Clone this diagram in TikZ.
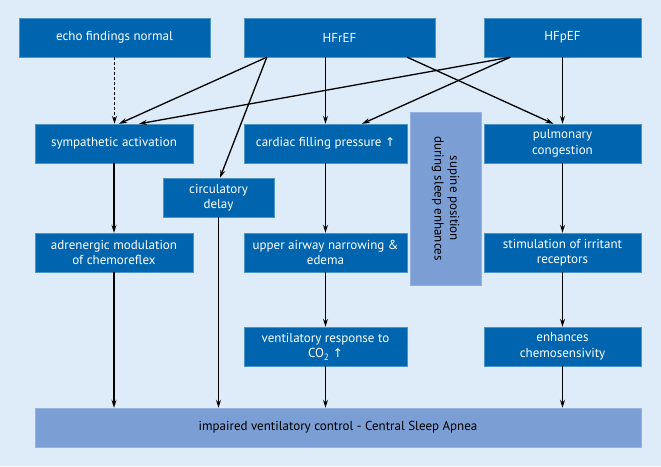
\documentclass[tikz,border=0pt]{standalone}
\usepackage{fontspec}
\setmainfont{PT Sans}
\newfontfamily\symfont{DejaVu Sans}
\usetikzlibrary{arrows.meta}
\definecolor{bgblue}{RGB}{222,235,248}
\definecolor{darkbox}{RGB}{0,101,174}
\definecolor{lightbox}{RGB}{123,158,212}
\newcommand{\uparr}{{\symfont\fontsize{12}{14}\selectfont ↑}}
\begin{document}
\begin{tikzpicture}[x=1pt,y=-1pt,
  dbox/.style={draw=darkbox!70!white, line width=0.4pt, fill=darkbox, text=white, align=center,
    minimum height=39pt, inner sep=2pt, font=\fontsize{13}{15.5}\selectfont},
  lbox/.style={draw=lightbox!80!white, line width=0.4pt, fill=lightbox, text=black, align=center,
    inner sep=0pt, font=\fontsize{13}{15.5}\selectfont},
  conn/.style={draw=black, line width=1.3pt, -{Stealth[length=8pt,width=5pt]}},
  plainline/.style={draw=black, line width=1.3pt}
]
\fill[bgblue] (0,0) rectangle (661,466);
\useasboundingbox (0,0) rectangle (661,466);

\node[dbox, minimum width=191pt] (echo) at (114.5,37.5) {echo findings normal};
\node[dbox, minimum width=191pt] (hfr) at (339.5,37.5) {HFrEF};
\node[dbox, minimum width=157pt] (hfp) at (562.5,37.5) {HFpEF};

\node[dbox, minimum width=158pt] (symp) at (114,143.5) {sympathetic activation};
\node[dbox, minimum width=163pt] (card) at (325.5,143.5) {cardiac filling pressure \uparr};
\node[dbox, minimum width=157pt] (pulm) at (562.5,143.5) {pulmonary\\congestion};

\node[dbox, minimum width=111pt] (circ) at (218.5,197.5) {circulatory\\delay};

\node[dbox, minimum width=158pt] (adr) at (114,252.5) {adrenergic modulation\\of chemoreflex};
\node[dbox, minimum width=163pt] (upper) at (325.5,252.5) {upper airway narrowing \&\\edema};
\node[dbox, minimum width=157pt] (stim) at (562.5,252.5) {stimulation of irritant\\receptors};

\node[dbox, minimum width=163pt] (vent) at (325.5,346.5) {ventilatory response to\\CO\textsubscript{2} \uparr};
\node[dbox, minimum width=157pt] (enh) at (562.5,346.5) {enhances\\chemosensivity};

\node[lbox, minimum width=71pt, minimum height=173pt] (sup) at (445.5,198.5) {};
\node[lbox, draw=none, fill=none, rotate=-90] (suptext) at (sup.center) {supine position\\during sleep enhances};

\node[lbox, minimum width=606pt, minimum height=39pt] (bottom) at (338,427.5) {impaired ventilatory control - Central Sleep Apnea};

% top row connectors
\draw[conn, dashed, dash pattern=on 3pt off 2pt] (echo.south) -- (echo.south |- symp.north);
\draw[conn] ([xshift=23pt]hfr.south west) -- ([xshift=5pt]symp.north);
\draw[conn] ([xshift=23pt]hfr.south west) -- ([xshift=1.5pt]circ.north);
\draw[conn] (hfr.south -| card.north) -- (card.north);
\draw[conn] ([xshift=-28pt]hfr.south east) -- ([xshift=-9pt]pulm.north);
\draw[conn] ([xshift=26.5pt]hfp.south west) -- ([xshift=25pt]symp.north);
\draw[conn] ([xshift=26.5pt]hfp.south west) -- ([xshift=36.5pt]card.north);
\draw[conn] (hfp.south) -- (pulm.north);

% vertical chains
\draw[conn] (symp.south) -- (adr.north);
\draw[conn] (adr.south) -- (adr.south |- bottom.north);
\draw[conn] (circ.south) -- (circ.south |- bottom.north);
\draw[conn] (card.south) -- (upper.north);
\draw[conn] (upper.south) -- (vent.north);
\draw[conn] (vent.south) -- (vent.south |- bottom.north);
\draw[conn] (pulm.south) -- (stim.north);
\draw[conn] (stim.south) -- (enh.north);
\draw[conn] (enh.south) -- (enh.south |- bottom.north);
\end{tikzpicture}
\end{document}
